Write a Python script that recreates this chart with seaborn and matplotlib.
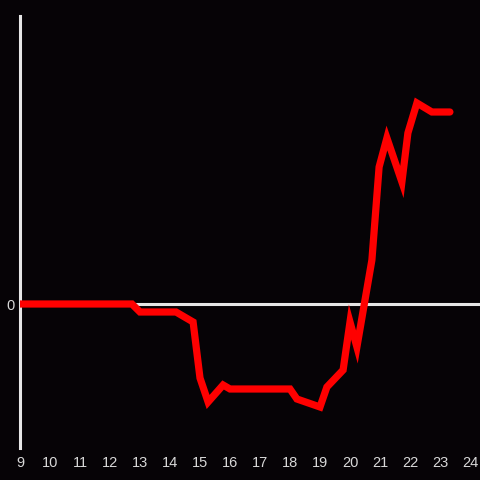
import matplotlib
matplotlib.use("Agg")
import matplotlib.pyplot as plt
import seaborn as sns
import pandas as pd

hours = [9.0, 12.73, 13.0, 14.2, 14.77, 15.0, 15.27, 15.77, 16.0, 18.0, 18.23, 19.0, 19.23,
         19.77, 20.0, 20.23, 20.73, 20.97, 21.23, 21.73, 21.93, 22.23, 22.73, 23.33]
values = [0.0, 0.0, -0.8, -0.8, -1.8, -7.4, -9.8, -8.1, -8.5, -8.5, -9.5, -10.3, -8.3,
          -6.6, -1.8, -4.3, 4.4, 13.7, 16.6, 12.2, 17.1, 20.1, 19.2, 19.2]
xticks = list(range(9, 25))
yticks = [0]

df = pd.DataFrame({"hour": hours, "value": values})

bg = "#060306"
sns.set_theme(style="dark")
plt.rcParams["font.family"] = ["Liberation Sans", "DejaVu Sans"]

fig = plt.figure(figsize=(4.8, 4.8), dpi=100, facecolor=bg)
ax = fig.add_axes([20/480, 32/480, 460/480, 432/480])
ax.set_facecolor(bg)

ax.axhline(0, color="#e6e6e6", lw=2.2, zorder=1)
sns.lineplot(data=df, x="hour", y="value", ax=ax, color="#ff0000", lw=5.2,
             zorder=3, solid_joinstyle="miter", sort=False)

ax.set_xlim(9, 9 + 460/30)
ax.set_ylim(-14.4, 28.8)
ax.set_xticks(xticks)
ax.set_xticklabels([str(t) for t in xticks])
ax.set_yticks(yticks)
ax.set_yticklabels(["0"])
ax.tick_params(axis="both", length=0, colors="#d8d8d8", labelsize=10.5, pad=4)
ax.tick_params(axis="x", pad=6)
ax.set_xlabel("")
ax.set_ylabel("")
ax.grid(False)
for s in ["top", "right", "bottom"]:
    ax.spines[s].set_visible(False)
ax.spines["left"].set_visible(True)
ax.spines["left"].set_color("#e6e6e6")
ax.spines["left"].set_linewidth(2.2)

fig.savefig("out.png", dpi=100, facecolor=bg)
